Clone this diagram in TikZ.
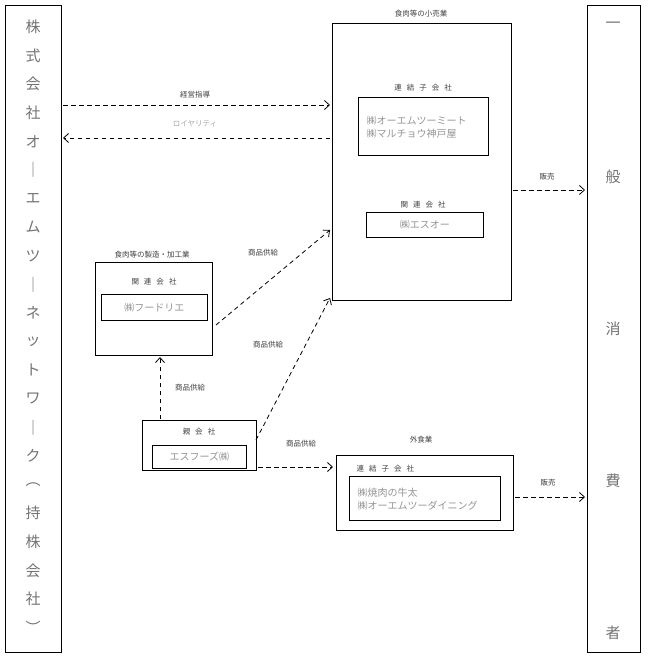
\documentclass[tikz,border=0pt]{standalone}
\usepackage{fontspec}
\setmainfont{Noto Sans CJK JP}
\usetikzlibrary{arrows.meta}
\newcommand{\kgap}{\hspace{5pt}}
\begin{document}
\begin{tikzpicture}[x=1pt,y=-1pt,
  box/.style={draw,anchor=north west,inner sep=0pt,line width=0.8pt},
  side/.style={box,line width=1.3pt},
  flow/.style={dash pattern=on 4.5pt off 3.5pt,-{Straight Barb[length=5pt,width=9pt]},line width=0.8pt},
  lbl/.style={font=\fontsize{7.5}{8}\selectfont,text=black!75},
  firm/.style={font=\fontsize{10}{13}\selectfont,text=black!42},
  big/.style={font=\fontsize{15}{16}\selectfont,text=black!55}]
\useasboundingbox (0,0) rectangle (648,660);
% outer boxes
\node[side,minimum width=56pt,minimum height=647pt] (hold) at (5,5) {};
\node[side,minimum width=53pt,minimum height=647pt] (cons) at (587,5) {};
\foreach \c [count=\i from 0] in {株,式,会,社,オ,｜,エ,ム,ツ,｜,ネ,ッ,ト,ワ,｜,ク,︵,持,株,会,社,︶}
  \node[big] (h\i) at (33,27+28.6*\i) {\c};
\foreach \c [count=\i from 0] in {一,般,消,費,者}
  \node[big] (c\i) at (613,25+152*\i) {\c};
% retail
\node[box,minimum width=179pt,minimum height=277pt] (retail) at (332,23) {};
\node[lbl] (retaillbl) at (421,14) {食肉等の小売業};
\node[lbl] (sub1lbl) at (423,88) {連\kgap 結\kgap 子\kgap 会\kgap 社};
\node[box,minimum width=130pt,minimum height=58pt] (sub1) at (358,97) {};
\node[firm,align=left,anchor=west] (sub1txt) at (363,127) {㈱オーエムツーミート\\㈱マルチョウ神戸屋};
\node[lbl] (rel1lbl) at (423,205) {関\kgap 連\kgap 会\kgap 社};
\node[box,minimum width=117pt,minimum height=25pt] (rel1) at (366,212) {};
\node[firm] (rel1txt) at (rel1) {㈱エスオー};
% processing
\node[box,minimum width=117pt,minimum height=93pt] (proc) at (95,262) {};
\node[lbl] (proclbl) at (152,255) {食肉等の製造・加工業};
\node[lbl] (rel2lbl) at (154,282) {関\kgap 連\kgap 会\kgap 社};
\node[box,minimum width=106pt,minimum height=26pt] (rel2) at (101,294) {};
\node[firm] (rel2txt) at (rel2) {㈱フードリエ};
% parent
\node[box,minimum width=114pt,minimum height=50pt] (parent) at (142,420) {};
\node[lbl] (parentlbl) at (199,432) {親\kgap 会\kgap 社};
\node[box,minimum width=94pt,minimum height=23pt] (parentin) at (152,445) {};
\node[firm] (parenttxt) at (parentin) {エスフーズ㈱};
% dining
\node[box,minimum width=177pt,minimum height=75pt] (dine) at (336,455) {};
\node[lbl] (dinelbl) at (421,440) {外食業};
\node[lbl,anchor=west] (sub2lbl) at (353,469) {連\kgap 結\kgap 子\kgap 会\kgap 社};
\node[box,minimum width=151pt,minimum height=44pt] (sub2) at (349,476) {};
\node[firm,align=left,anchor=west] (sub2txt) at (354,499) {㈱焼肉の牛太\\㈱オーエムツーダイニング};
% flows
\coordinate (k1) at (63,105);   \coordinate (k2) at (330,105);
\coordinate (r1) at (330,138);  \coordinate (r2) at (63,138);
\coordinate (s1) at (513,190);  \coordinate (s2) at (585,190);
\coordinate (s3) at (515,497);  \coordinate (s4) at (585,497);
\coordinate (p1) at (160,419);  \coordinate (p2) at (160,357);
\coordinate (p3) at (216,325);  \coordinate (p4) at (330,230);
\coordinate (p5) at (256,440);  \coordinate (p6) at (330,298);
\coordinate (p7) at (258,467);  \coordinate (p8) at (333,467);
\draw[flow] (k1) -- (k2);
\draw[flow] (r1) -- (r2);
\draw[flow] (s1) -- (s2);
\draw[flow] (s3) -- (s4);
\draw[flow] (p1) -- (p2);
\draw[flow] (p3) -- (p4);
\draw[flow] (p5) -- (p6);
\draw[flow] (p7) -- (p8);
\node[lbl] (keiei) at (195,95) {経営指導};
\node[lbl,text=black!35] (royalty) at (195,124) {ロイヤリティ};
\node[lbl] (sale1) at (547,177) {販売};
\node[lbl] (sale2) at (548,483) {販売};
\node[lbl] (sup1) at (190,388) {商品供給};
\node[lbl] (sup2) at (263,253) {商品供給};
\node[lbl] (sup3) at (268,345) {商品供給};
\node[lbl] (sup4) at (301,444) {商品供給};
\end{tikzpicture}
\end{document}
